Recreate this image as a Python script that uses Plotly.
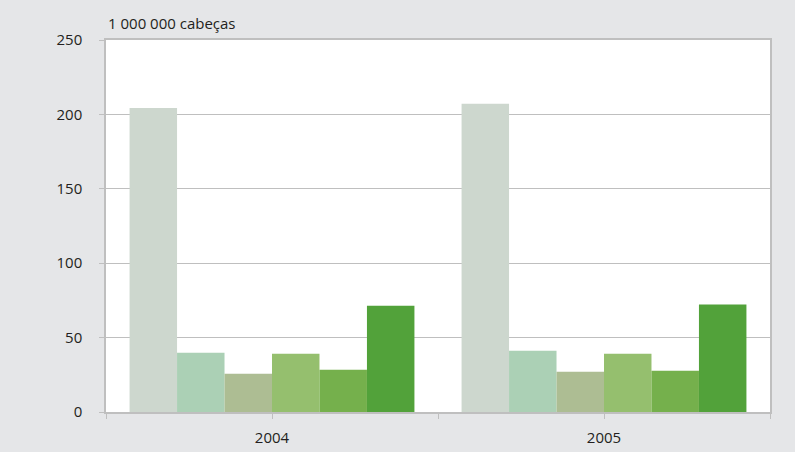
import plotly.graph_objects as go

# Efetivo bovino (milhões de cabeças), Brasil e Grandes Regiões
anos = ["2004", "2005"]
regioes = ["Brasil", "Norte", "Nordeste", "Sudeste", "Sul", "Centro-Oeste"]
valores = {
    "Brasil":       [204.3, 207.2],
    "Norte":        [39.9, 41.2],
    "Nordeste":     [25.7, 27.1],
    "Sudeste":      [39.2, 39.2],
    "Sul":          [28.4, 27.8],
    "Centro-Oeste": [71.4, 72.2],
}
cores = ["#cdd7ce", "#abd0b5", "#adbd93", "#95bf6e", "#75b04c", "#52a23a"]
y_ticks = [0, 50, 100, 150, 200, 250]

fig = go.Figure()
for nome, cor in zip(regioes, cores):
    fig.add_trace(go.Bar(
        x=list(range(len(anos))),
        y=valores[nome],
        name=nome,
        marker=dict(color=cor, line=dict(width=0)),
    ))

grid = "#bfbfbf"
txt = "#231f20"
fig.update_layout(
    width=795, height=452,
    margin=dict(l=106, r=25, t=40, b=40, autoexpand=False),
    paper_bgcolor="#e5e6e8",
    plot_bgcolor="#ffffff",
    barmode="group",
    bargap=0.142,
    bargroupgap=0,
    showlegend=False,
    font=dict(family="Open Sans", size=15, color=txt),
    xaxis=dict(
        range=[-0.5, 1.5],
        tickmode="array",
        tickvals=list(range(len(anos))),
        ticktext=anos,
        ticks="outside", ticklen=5, tickcolor=grid, tickwidth=1,
        minor=dict(tickmode="array", tickvals=[-0.5, 0.5, 1.5],
                   ticks="outside", ticklen=5, tickcolor=grid, showgrid=False),
        showline=True, linecolor=grid, linewidth=1.5, mirror=True,
        showgrid=False, zeroline=False,
        ticklabelstandoff=6,
        automargin=False,
        fixedrange=True,
    ),
    yaxis=dict(
        range=[0, 250],
        tickmode="array",
        tickvals=y_ticks,
        ticks="outside", ticklen=5, tickcolor=grid, tickwidth=1,
        showline=True, linecolor=grid, linewidth=1.5, mirror=True,
        showgrid=True, gridcolor=grid, gridwidth=1,
        zeroline=False,
        ticklabelstandoff=14,
        automargin=False,
        fixedrange=True,
    ),
    annotations=[dict(
        text="1 000 000 cabeças",
        xref="paper", yref="paper", x=0, y=1,
        xanchor="left", yanchor="bottom", yshift=5,
        showarrow=False, font=dict(size=15, color=txt),
    )],
)

fig.write_html("out.html")
